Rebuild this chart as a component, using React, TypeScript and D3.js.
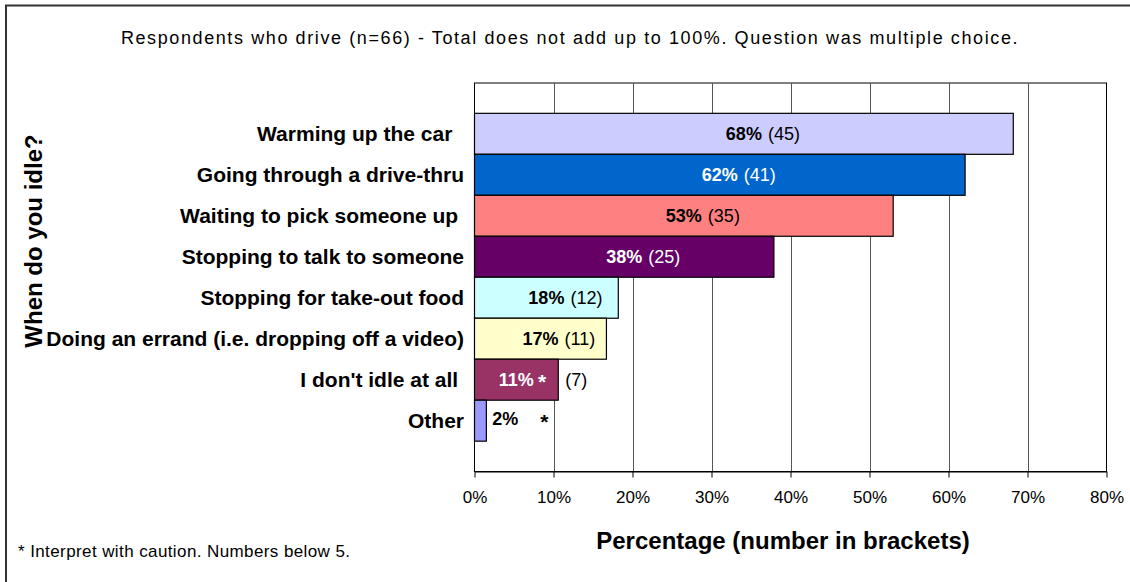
import React, { useEffect, useRef } from "react";
import * as d3 from "d3";

const categories = [
  "Warming up the car  ",
  "Going through a drive-thru",
  "Waiting to pick someone up ",
  "Stopping to talk to someone",
  "Stopping for take-out food",
  "Doing an errand (i.e. dropping off a video)",
  "I don't idle at all ",
  "Other",
];
const percentValues = [68.2, 62.1, 53.0, 37.9, 18.2, 16.7, 10.6, 1.5];
const pctLabels = ["68%", "62%", "53%", "38%", "18%", "17%", "11%", "2%"];
const countLabels = ["(45)", "(41)", "(35)", "(25)", "(12)", "(11)", "(7)", ""];
const cautionFlags = [false, false, false, false, false, false, true, true];
const barColors = ["#CCCCFF", "#0066CC", "#FF8080", "#660066", "#CCFFFF", "#FFFFCC", "#993366", "#9999FF"];
const pctTextColors = ["#000", "#fff", "#000", "#fff", "#000", "#000", "#fff", "#000"];
const countTextColors = ["#000", "#fff", "#000", "#fff", "#000", "#000", "#000", "#000"];
const xTicks = [0, 10, 20, 30, 40, 50, 60, 70, 80];

const titleText = "Respondents who drive (n=66) - Total does not add up to 100%. Question was multiple choice.";
const yTitle = "When do you idle?";
const xTitle = "Percentage (number in brackets)";
const footnote = "* Interpret with caution. Numbers below 5.";

const W = 1130;
const H = 582;
const FONT = "Liberation Sans, Arial, Helvetica, sans-serif";

export default function App() {
  const ref = useRef<SVGSVGElement>(null);

  useEffect(() => {
    const svg = d3.select(ref.current);
    svg.selectAll("*").remove();
    svg.style("font-family", FONT);

    const left = 474.5, right = 1106.5, top = 83, bottom = 471.5;
    const x = d3.scaleLinear().domain([0, 80]).range([left, right]);
    const y = d3.scaleBand<string>().domain(categories).range([top, bottom]).paddingInner(0).paddingOuter(0.74);

    // outer frame
    svg.append("rect").attr("x", 6).attr("y", 5.5).attr("width", W + 20).attr("height", H + 20)
      .attr("fill", "#fff").attr("stroke", "#333").attr("stroke-width", 2);

    // title
    svg.append("text").attr("x", 570).attr("y", 44).attr("text-anchor", "middle")
      .attr("font-size", 18).attr("letter-spacing", 1.6).attr("fill", "#000").text(titleText);

    // plot frame & gridlines
    svg.append("rect").attr("x", left).attr("y", top).attr("width", right - left).attr("height", bottom - top)
      .attr("fill", "#fff").attr("stroke", "#000").attr("stroke-width", 1);
    svg.append("g").selectAll("line").data(xTicks.slice(1, -1)).join("line")
      .attr("x1", d => Math.round(x(d)) + 0.5).attr("x2", d => Math.round(x(d)) + 0.5)
      .attr("y1", top).attr("y2", bottom).attr("stroke", "#555").attr("stroke-width", 1);

    // axis
    const axis = d3.axisBottom(x).tickValues(xTicks).tickFormat(d => `${d}%`).tickSize(6).tickSizeOuter(0);
    const ag = svg.append("g").attr("transform", `translate(0,${bottom})`).call(axis);
    ag.select(".domain").attr("stroke", "#000");
    ag.selectAll(".tick line").attr("stroke", "#000");
    ag.selectAll(".tick text").attr("font-size", 17).attr("font-family", FONT).attr("fill", "#000").attr("dy", "1.35em");

    // bars
    svg.append("g").selectAll("rect").data(categories).join("rect")
      .attr("x", x(0)).attr("y", d => y(d)!)
      .attr("width", (d, i) => x(percentValues[i]) - x(0))
      .attr("height", y.bandwidth())
      .attr("fill", (d, i) => barColors[i]).attr("stroke", "#000").attr("stroke-width", 1.2);

    // category labels
    svg.append("g").selectAll("text").data(categories).join("text")
      .attr("x", 464).attr("y", d => y(d)! + y.bandwidth() / 2)
      .attr("dy", "0.35em").attr("text-anchor", "end")
      .attr("font-size", 21).attr("font-weight", "bold").attr("fill", "#000")
      .attr("xml:space", "preserve").style("white-space", "pre")
      .text(d => d);

    // value labels
    const lg = svg.append("g");
    categories.forEach((c, i) => {
      const cy = y(c)! + y.bandwidth() / 2;
      const isOther = i === categories.length - 1;
      const mid = isOther ? x(percentValues[i]) + 6 : (x(0) + x(percentValues[i])) / 2;
      const pctY = isOther ? y(c)! + 19 : cy;
      const pt = lg.append("text").attr("x", mid).attr("y", pctY).attr("dy", "0.35em")
        .attr("text-anchor", isOther ? "start" : "middle")
        .attr("font-size", 18).attr("font-weight", "bold").attr("fill", pctTextColors[i]).text(pctLabels[i]);
      const node = pt.node() as SVGTextElement;
      const w = node.getComputedTextLength();
      let endX = isOther ? mid + w : mid + w / 2;
      if (cautionFlags[i]) {
        const sx = isOther ? endX + 22 : endX + 4;
        const st = lg.append("text").attr("x", sx).attr("y", pctY).attr("dy", "0.45em")
          .attr("font-size", 21).attr("font-weight", "bold").attr("fill", pctTextColors[i]).text("*");
        endX = sx + (st.node() as SVGTextElement).getComputedTextLength();
      }
      if (countLabels[i]) {
        const cx = cautionFlags[i] ? x(percentValues[i]) + 7 : endX + 6;
        lg.append("text").attr("x", cx).attr("y", cy).attr("dy", "0.35em")
          .attr("font-size", 18).attr("fill", countTextColors[i]).text(countLabels[i]);
      }
    });

    // axis titles
    svg.append("text").attr("transform", `translate(42,${241}) rotate(-90)`)
      .attr("text-anchor", "middle").attr("font-size", 24).attr("font-weight", "bold").attr("fill", "#000").text(yTitle);
    svg.append("text").attr("x", 783).attr("y", 549).attr("text-anchor", "middle")
      .attr("font-size", 24).attr("font-weight", "bold").attr("fill", "#000").text(xTitle);
    svg.append("text").attr("x", 18).attr("y", 557).attr("font-size", 17).attr("letter-spacing", 0.4).attr("fill", "#000").text(footnote);
  }, []);

  return (
    <svg ref={ref} width={W} height={H} style={{ position: "absolute", left: 0, top: 0, background: "#fff" }} />
  );
}
